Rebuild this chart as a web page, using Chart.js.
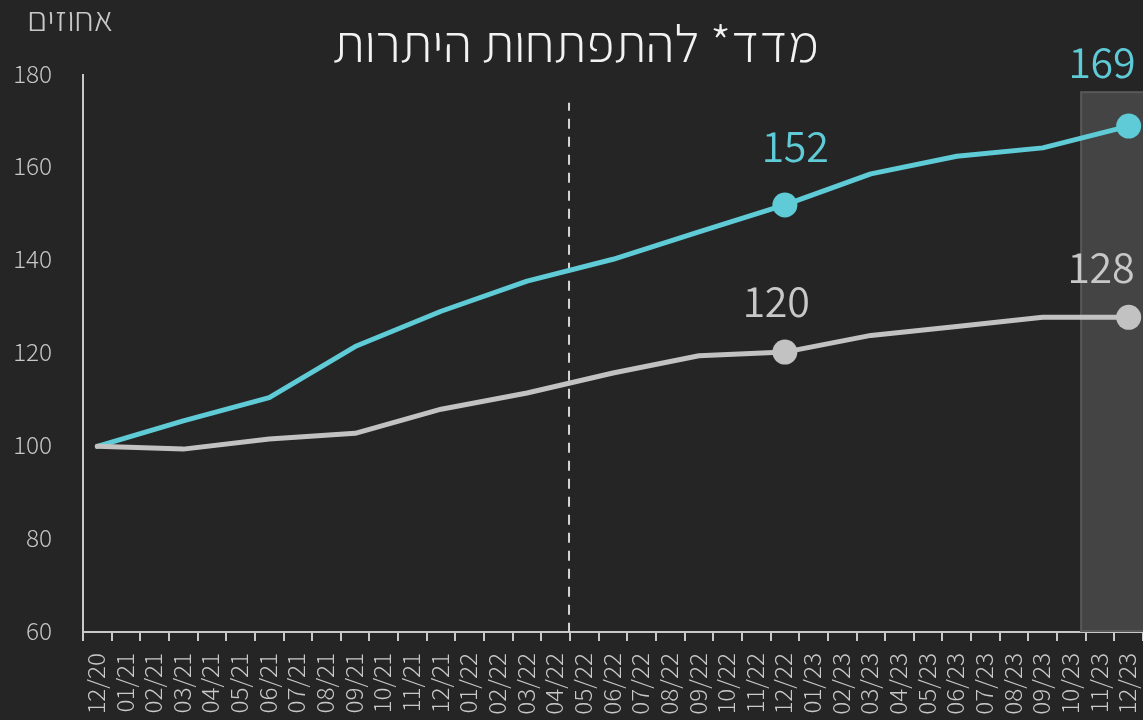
<!DOCTYPE html>
<html lang="he"><head><meta charset="utf-8">
<script src="https://cdn.jsdelivr.net/npm/chart.js@4.4.1/dist/chart.umd.min.js"></script>
<style>html,body{margin:0;padding:0;background:#252525;overflow:hidden}#wrap{width:1143px;height:720px;position:relative}</style>
</head><body><div id="wrap"><canvas id="c" width="1143" height="720"></canvas></div>
<script>
// ---- data ----
const labels = ['12/20','01/21','02/21','03/21','04/21','05/21','06/21','07/21','08/21','09/21','10/21','11/21','12/21',
  '01/22','02/22','03/22','04/22','05/22','06/22','07/22','08/22','09/22','10/22','11/22','12/22',
  '01/23','02/23','03/23','04/23','05/23','06/23','07/23','08/23','09/23','10/23','11/23','12/23'];
const quarterLabels = ['12/20','03/21','06/21','09/21','12/21','03/22','06/22','09/22','12/22','03/23','06/23','09/23','12/23'];
const reservesIndex = [100,105.5,110.5,121.5,129.1,135.6,140.3,146.2,152,158.7,162.5,164.3,169];
const benchmarkIndex = [100,99.4,101.6,102.8,108.0,111.5,115.8,119.5,120.3,123.9,125.8,127.8,127.8];
const highlightLabels = ['12/22','12/23'];
const yTicks = [60,80,100,120,140,160,180];
const titleText = 'מדד* להתפתחות היתרות';
const yAxisTitle = 'אחוזים';
const dividerAfter = '04/22';

function spread(vals){
  return labels.map(l => { const i = quarterLabels.indexOf(l); return i >= 0 ? vals[i] : null; });
}

const FONT = 'Assistant, "Roboto Condensed", "Liberation Sans", sans-serif';
const CYAN = '#5ecbd7', GREY = '#c2c2c2', AXIS = '#c8c8c8', TXT = '#c8c8c8';

const overlay = {
  id: 'overlay',
  beforeDatasetsDraw(chart){
    const {ctx, chartArea: a, scales:{x, y}} = chart;
    // shaded final-period box
    const x34 = x.getPixelForValue(34), x35 = x.getPixelForValue(35);
    const left = x34 + 0.34*(x35-x34);
    const top = y.getPixelForValue(176.3);
    ctx.save();
    ctx.fillStyle = '#444444';
    ctx.fillRect(left, top, a.right - left + 2, a.bottom - 1 - top);
    ctx.strokeStyle = '#585858'; ctx.lineWidth = 2;
    ctx.strokeRect(left, top, a.right - left + 4, a.bottom - 1 - top);
    // dashed divider
    const i = labels.indexOf(dividerAfter);
    const dx = (x.getPixelForValue(i) + x.getPixelForValue(i+1))/2 - 1;
    ctx.beginPath();
    ctx.setLineDash([10,8]); ctx.lineDashOffset = 2;
    ctx.strokeStyle = '#d6d6d6'; ctx.lineWidth = 2;
    ctx.moveTo(dx, y.getPixelForValue(174)); ctx.lineTo(dx, a.bottom);
    ctx.stroke();
    ctx.restore();
  },
  afterDatasetsDraw(chart){
    const {ctx} = chart;
    const offs = {'0|12/22':[-8,-35],'0|12/23':[-27,-34],'1|12/22':[11,-43],'1|12/23':[-26,-48]};
    ctx.save();
    ctx.font = '400 46px ' + FONT;
    ctx.textAlign = 'center'; ctx.textBaseline = 'alphabetic';
    chart.data.datasets.forEach((ds, di) => {
      const meta = chart.getDatasetMeta(di);
      highlightLabels.forEach(l => {
        const idx = labels.indexOf(l);
        const p = meta.data[idx];
        const o = offs[di+'|'+l];
        ctx.fillStyle = di === 1 ? CYAN : TXT;
        ctx.fillText(String(Math.round(ds.data[idx])), p.x + o[0], p.y + o[1]);
      });
    });
    // title & axis title
    ctx.fillStyle = '#f2f2f2';
    ctx.font = '300 53px ' + FONT;
    ctx.textBaseline = 'middle';
    ctx.fillText(titleText, 576, 47);
    ctx.fillStyle = TXT;
    ctx.font = '300 35px ' + FONT;
    ctx.fillText(yAxisTitle, 70, 21);
    ctx.restore();
  }
};

function radius(c){ return highlightLabels.includes(labels[c.dataIndex]) ? 12.5 : 0; }

function build(){
  new Chart(document.getElementById('c'), {
    type: 'line',
    data: {
      labels,
      datasets: [
        { label: 'benchmark', data: spread(benchmarkIndex), borderColor: GREY, backgroundColor: GREY,
          borderWidth: 5, pointRadius: radius, pointHoverRadius: radius, pointBorderWidth: 0, spanGaps: true,
          borderCapStyle: 'round', borderJoinStyle: 'round', tension: 0, clip: false },
        { label: 'reserves', data: spread(reservesIndex), borderColor: CYAN, backgroundColor: CYAN,
          borderWidth: 5, pointRadius: radius, pointHoverRadius: radius, pointBorderWidth: 0, spanGaps: true,
          borderCapStyle: 'round', borderJoinStyle: 'round', tension: 0, clip: false }
      ]
    },
    options: {
      responsive: false, animation: false, devicePixelRatio: 1,
      layout: { autoPadding: false, padding: { top: 75, left: 0, right: 0, bottom: 0 } },
      plugins: { legend: { display: false }, tooltip: { enabled: false }, title: { display: false } },
      scales: {
        x: {
          type: 'category', offset: true,
          grid: { display: true, offset: true, drawOnChartArea: false, drawTicks: true, tickLength: 9, color: AXIS, lineWidth: 2 },
          border: { display: true, color: AXIS, width: 2 },
          ticks: { autoSkip: false, minRotation: 90, maxRotation: 90, padding: 12, color: TXT,
                   font: { family: FONT, size: 27, weight: 300 } },
          afterFit(s){ s.height = 88; s.paddingLeft = 0; s.paddingRight = 0; }
        },
        y: {
          min: 60, max: 180,
          afterBuildTicks(s){ s.ticks = yTicks.map(v => ({ value: v })); },
          grid: { display: false, drawTicks: false },
          border: { display: true, color: AXIS, width: 2 },
          ticks: { padding: 31, color: TXT, font: { family: FONT, size: 27, weight: 300 } },
          afterFit(s){ s.width = 83; s.paddingTop = 0; s.paddingBottom = 0; }
        }
      }
    },
    plugins: [overlay]
  });
}
Promise.all([
  document.fonts.load('300 27px Assistant'),
  document.fonts.load('400 46px Assistant'),
  document.fonts.load('300 53px Assistant', titleText)
]).then(build, build);
</script></body></html>
